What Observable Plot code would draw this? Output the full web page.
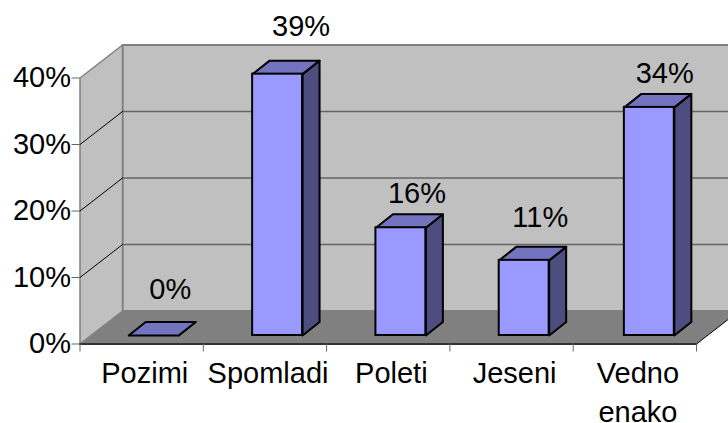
<!DOCTYPE html>
<html>
<head>
<meta charset="utf-8">
<script src="https://cdn.jsdelivr.net/npm/d3@7"></script>
<script src="https://cdn.jsdelivr.net/npm/@observablehq/plot@0.6"></script>
<style>html,body{margin:0;padding:0;background:#fff}svg{display:block}</style>
</head>
<body>
<div id="chart"></div>
<script>
const categories = ["Pozimi", "Spomladi", "Poleti", "Jeseni", "Vedno\nenako"];
const values = [0, 39.3, 16.2, 11.3, 34.3];
const valueLabels = ["0%", "39%", "16%", "11%", "34%"];
const yTicks = [0, 10, 20, 30, 40];
const xTicks = [0, 1, 2, 3, 4, 5];

// 3D projection, in scale units
const wallX = 0.345, wallY = 4.96;   // depth of the chart box
const barDX = 0.138, barDY = 2.03;   // depth of one bar
const baseY = 1.28;                  // bars stand this far back on the floor
const barStart = [0.395, 1.4, 2.4, 3.4, 4.415];
const barWidth = 0.405;
// where each value label sits relative to its bar (as placed in the reference)
const labelShift = [0.135, 0.19, 0.13, 0.13, 0.125];
const labelLift = [6.9, 7.15, 5.1, 6.45, 5.1];

const closed = (pts) => [...pts, pts[0]].map(([x, y]) => ({x, y}));
const poly = (pts, o) => Plot.line(closed(pts), {x: "x", y: "y", ...o});
const seg = (a, b, o) => Plot.line([{x: a[0], y: a[1]}, {x: b[0], y: b[1]}], {x: "x", y: "y", ...o});

const bars = categories.map((c, i) => ({
  c, x1: barStart[i], x2: barStart[i] + barWidth, y0: baseY, y1: baseY + values[i],
  label: valueLabels[i],
  lx: barStart[i] + barWidth / 2 + labelShift[i], ly: baseY + values[i] + labelLift[i]
}));
const ring = (rows) => rows.flatMap(r => [...r.pts, r.pts[0]].map(([x, y]) => ({c: r.c, x, y})));
const tops = ring(bars.map(b => ({c: b.c, pts: [[b.x1, b.y1], [b.x2, b.y1], [b.x2 + barDX, b.y1 + barDY], [b.x1 + barDX, b.y1 + barDY]]})));
const sides = ring(bars.map(b => ({c: b.c, pts: [[b.x2, b.y0], [b.x2 + barDX, b.y0 + barDY], [b.x2 + barDX, b.y1 + barDY], [b.x2, b.y1]]})));

const gridVals = yTicks.filter(v => v > 0 && v < 40);
const wallGray = "#808080";

const plot = Plot.plot({
  width: 728,
  height: 423,
  marginLeft: 79.5,
  marginRight: 32,
  marginTop: 77.5,
  marginBottom: 79.5,
  x: {domain: [0, 5], label: null},
  y: {domain: [0, 40], label: null},
  style: {fontFamily: "'Liberation Sans', Arial, sans-serif", fontSize: "29px", background: "#fff", color: "#000"},
  marks: [
    // back wall, side wall, floor
    poly([[wallX, wallY], [5 + wallX, wallY], [5 + wallX, 40 + wallY], [wallX, 40 + wallY]], {fill: "#c0c0c0", stroke: wallGray, strokeWidth: 2}),
    poly([[0, 0], [wallX, wallY], [wallX, 40 + wallY], [0, 40]], {fill: "#c0c0c0", stroke: wallGray, strokeWidth: 1.5}),
    ...gridVals.map(v => seg([wallX, v + wallY], [5 + wallX, v + wallY], {stroke: "#666666", strokeWidth: 1.6})),
    ...gridVals.map(v => seg([0, v], [wallX, v + wallY], {stroke: "#000", strokeWidth: 1})),
    poly([[0, 0], [5, 0], [5 + wallX, wallY], [wallX, wallY]], {fill: "#808080", stroke: "none"}),
    seg([5, 0], [5 + wallX, wallY], {stroke: "#000", strokeWidth: 1}),
    seg([0, 0], [5, 0], {stroke: "#333", strokeWidth: 2}),
    // axes
    Plot.axisY({ticks: yTicks, tickSize: 8, tickPadding: 1, tickFormat: d => d + "%", stroke: "#666", fontSize: 29, fill: "#000", label: null}),
    Plot.axisX({ticks: xTicks, tickSize: 8, tickFormat: () => null, stroke: "#666", label: null}),
    // bars
    Plot.line(sides, {x: "x", y: "y", z: "c", fill: "#4d4d80", stroke: "#000", strokeWidth: 2}),
    Plot.line(tops, {x: "x", y: "y", z: "c", fill: "#7373bf", stroke: "#000", strokeWidth: 2}),
    Plot.rect(bars.filter(b => b.y1 > b.y0), {x1: "x1", x2: "x2", y1: "y0", y2: "y1", fill: "#9999ff", stroke: "#000", strokeWidth: 2}),
    // value labels
    Plot.text(bars, {x: "lx", y: "ly", text: "label", fontSize: 29, fill: "#000"}),
    // category labels
    Plot.text(categories, {x: (d, i) => i + 0.5 + 0.025, y: 0, text: d => d, dy: 11, lineAnchor: "top", lineHeight: 1.345, fontSize: 29, fill: "#000"})
  ]
});
document.getElementById("chart").append(plot);
</script>
</body>
</html>
